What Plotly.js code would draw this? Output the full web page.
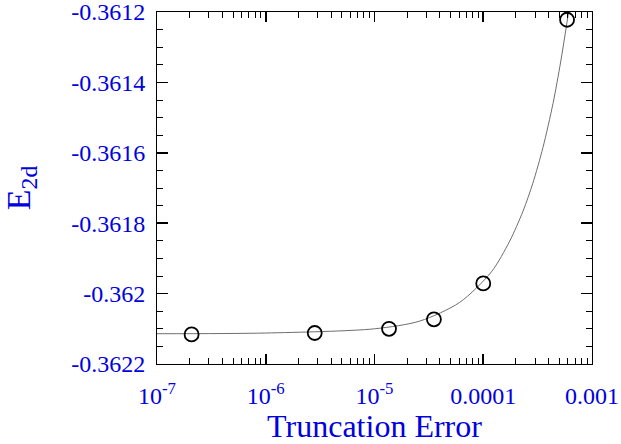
<!DOCTYPE html>
<html>
<head>
<meta charset="utf-8">
<script src="https://cdn.plot.ly/plotly-3.0.1.min.js"></script>
<style>html,body{margin:0;padding:0;background:#fff;}#chart{width:621px;height:444px;}</style>
</head>
<body>
<div id="chart"></div>
<script>
// Measured points
var truncErr = [2.08e-7, 2.82e-6, 1.36e-5, 3.52e-5, 1.0e-4, 5.9e-4];
var energy   = [-0.362116, -0.362112, -0.3621, -0.362073, -0.361971, -0.361222];

// Fit curve
var fitX = [1e-7, 1e-6, 1e-5, 2.61e-5, 6.07e-5, 1.19e-4, 1.75e-4, 2.32e-4, 2.86e-4, 3.54e-4, 4.38e-4, 5.15e-4, 6.09e-4];
var fitE = [-0.362114, -0.362112, -0.3621, -0.362078, -0.362025, -0.361938, -0.361851, -0.361766, -0.361686, -0.361585, -0.36146, -0.361342, -0.3612];

// Tick labels
var xTickVals = [1e-7, 1e-6, 1e-5, 1e-4, 1e-3];
var xTickText = ['10<sup>-7</sup>', '10<sup>-6</sup>', '10<sup>-5</sup>', '0.0001', '0.001'];
var yTickVals = [-0.3622, -0.362, -0.3618, -0.3616, -0.3614, -0.3612];
var yTickText = ['-0.3622', '-0.362', '-0.3618', '-0.3616', '-0.3614', '-0.3612'];

var minorX = [];
for (var d = -7; d < -3; d++) {
  for (var m = 2; m <= 9; m++) minorX.push(m * Math.pow(10, d));
}

var blue = '#0000e0';
var font = 'Liberation Serif';

var traces = [
  {
    x: fitX, y: fitE, type: 'scatter', mode: 'lines',
    line: {color: '#6e6e6e', width: 1, shape: 'spline', smoothing: 0.8},
    hoverinfo: 'skip', showlegend: false
  },
  {
    x: truncErr, y: energy, type: 'scatter', mode: 'markers',
    marker: {symbol: 'circle-open', size: 14, color: '#000', line: {width: 1.8}},
    showlegend: false, cliponaxis: false
  }
];

var layout = {
  width: 621, height: 444,
  margin: {l: 157, r: 29, t: 12, b: 80, pad: 0},
  paper_bgcolor: '#fff', plot_bgcolor: '#fff',
  showlegend: false,
  font: {family: font, color: blue},
  xaxis: {
    type: 'log', range: [-7.0001, -2.9999],
    tickmode: 'array', tickvals: xTickVals, ticktext: xTickText,
    ticks: 'inside', ticklen: 10, tickwidth: 1.5, tickcolor: '#000',
    mirror: 'allticks', showline: true, linecolor: '#000', linewidth: 1,
    showgrid: false, zeroline: false,
    tickfont: {family: font, size: 24, color: blue},
    ticklabelstandoff: 10, ticklabeloverflow: 'allow',
    minor: {tickmode: 'array', tickvals: minorX, ticks: 'inside', ticklen: 6, tickwidth: 1, tickcolor: '#000', showgrid: false},
    title: {text: 'Truncation Error', font: {family: font, size: 32, color: blue}, standoff: 8}
  },
  yaxis: {
    range: [-0.36220002, -0.36119998],
    tickmode: 'array', tickvals: yTickVals, ticktext: yTickText,
    ticks: 'inside', ticklen: 11, tickwidth: 1.5, tickcolor: '#000',
    mirror: 'allticks', showline: true, linecolor: '#000', linewidth: 1,
    showgrid: false, zeroline: false,
    tickfont: {family: font, size: 24, color: blue},
    ticklabelstandoff: 6, ticklabeloverflow: 'allow',
    minor: {dtick: 0.00005, tick0: -0.3622, ticks: 'inside', ticklen: 6, tickwidth: 1, tickcolor: '#000', showgrid: false},
    title: {text: 'E<sub>2d</sub>', font: {family: font, size: 34, color: blue}, standoff: 30}
  }
};

Plotly.newPlot('chart', traces, layout, {displayModeBar: false, staticPlot: true});
</script>
</body>
</html>
